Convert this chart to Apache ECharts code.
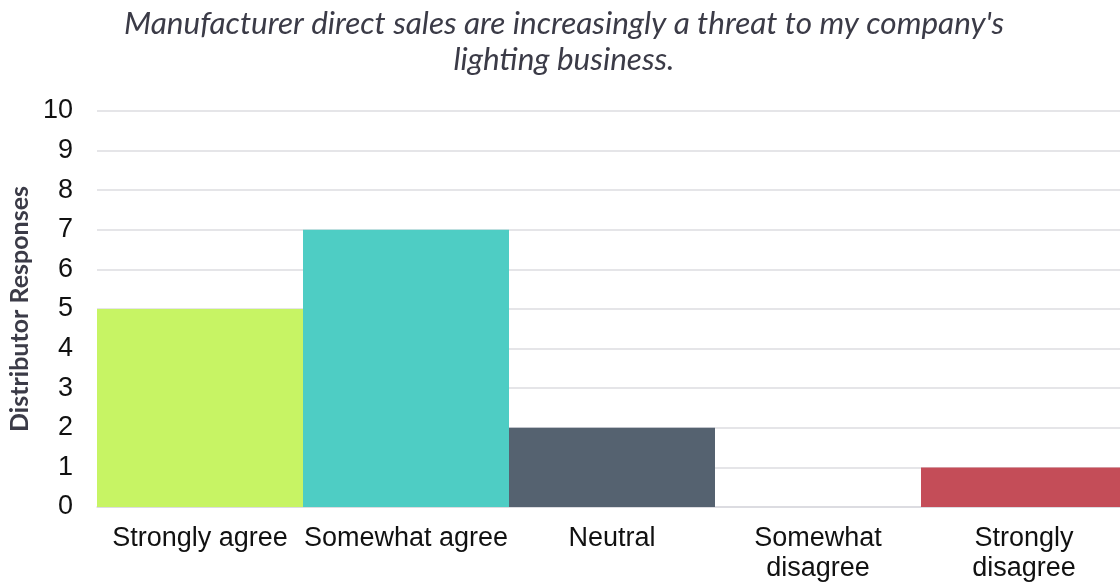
<!DOCTYPE html>
<html>
<head>
<meta charset="utf-8">
<script src="https://cdn.jsdelivr.net/npm/echarts@6/dist/echarts.min.js"></script>
<style>
  html, body { margin: 0; padding: 0; background: #ffffff; }
  #chart { width: 1120px; height: 584px; }
</style>
</head>
<body>
<div id="chart"></div>
<script>
// Survey answers and number of distributors giving each one
const categories = ['Strongly agree', 'Somewhat agree', 'Neutral', 'Somewhat\ndisagree', 'Strongly\ndisagree'];
const responses = [5, 7, 2, 0, 1];
const barColors = ['#c7f464', '#4ecdc4', '#556270', '#4ecdc4', '#c44d58'];
const yTicks = [0, 10, 1]; // min, max, step

const chart = echarts.init(document.getElementById('chart'), null, { renderer: 'canvas' });

chart.setOption({
  animation: false,
  backgroundColor: '#ffffff',
  title: {
    text: "Manufacturer direct sales are increasingly a threat to my company's\nlighting business.",
    left: 559,
    top: 1,
    textAlign: 'center',
    textStyle: {
      fontFamily: 'Lato',
      fontStyle: 'italic',
      fontWeight: 'normal',
      fontSize: 31.5,
      lineHeight: 36,
      color: '#3b3b47'
    }
  },
  grid: { left: 97, top: 111, width: 1030, height: 396, containLabel: false, outerBoundsMode: 'none' },
  xAxis: {
    type: 'category',
    data: categories,
    axisLine: { show: true, lineStyle: { color: '#d9d9de', width: 1.5 } },
    axisTick: { show: false },
    axisLabel: {
      interval: 0,
      margin: 17,
      fontFamily: 'Liberation Sans',
      fontSize: 27,
      lineHeight: 30,
      color: '#111111'
    }
  },
  yAxis: {
    type: 'value',
    min: yTicks[0],
    max: yTicks[1],
    interval: yTicks[2],
    name: 'Distributor Responses',
    nameLocation: 'middle',
    nameGap: 58,
    nameTextStyle: {
      fontFamily: 'Lato',
      fontWeight: 'bold',
      fontSize: 25,
      color: '#3b3b47'
    },
    axisLine: { show: false },
    axisTick: { show: false },
    splitLine: { lineStyle: { color: '#dcdce0', width: 1.5 } },
    axisLabel: {
      margin: 24,
      fontFamily: 'Liberation Sans',
      fontSize: 27,
      color: '#111111'
    }
  },
  series: [{
    type: 'bar',
    barCategoryGap: '0%',
    data: responses.map((v, i) => ({ value: v, itemStyle: { color: barColors[i] } }))
  }]
});
</script>
</body>
</html>
